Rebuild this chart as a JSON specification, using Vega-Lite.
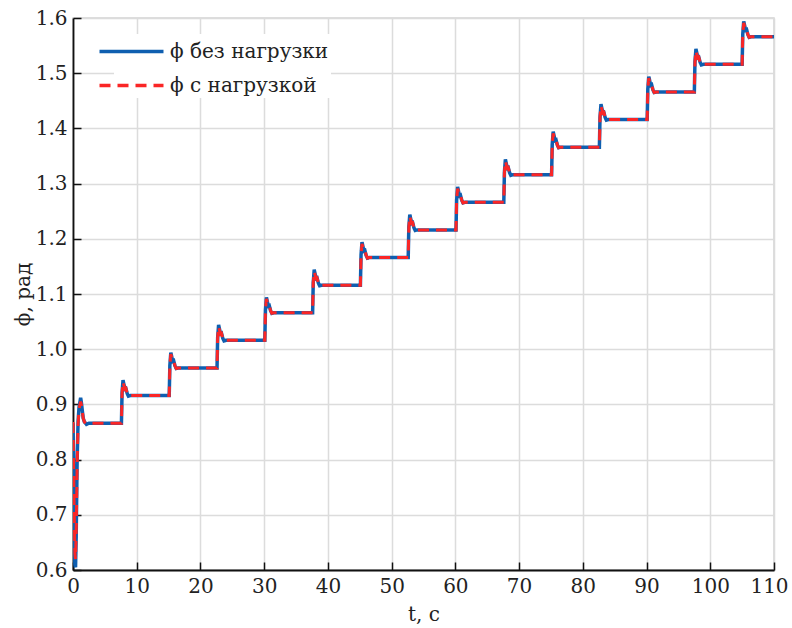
{
  "$schema": "https://vega.github.io/schema/vega-lite/v6.json",
  "width": 701,
  "height": 552,
  "autosize": {"type": "none"},
  "padding": {"left": 73, "top": 18, "right": 18, "bottom": 58},
  "background": "white",
  "view": {"stroke": "#d4d4d4", "strokeWidth": 1.5},
  "config": {
    "view": {"stroke": "#d4d4d4", "strokeWidth": 1.5},
    "font": "DejaVu Serif"
  },
  "data": {
    "values": [
      {"t": 0, "a": 0.866, "b": 0.868},
      {"t": 0.08, "a": 0.8, "b": 0.8},
      {"t": 0.2, "a": 0.68, "b": 0.7},
      {"t": 0.3, "a": 0.61, "b": 0.63},
      {"t": 0.4, "a": 0.605, "b": 0.62},
      {"t": 0.5, "a": 0.66, "b": 0.67},
      {"t": 0.65, "a": 0.8, "b": 0.79},
      {"t": 0.8, "a": 0.87, "b": 0.865},
      {"t": 0.95, "a": 0.895, "b": 0.89},
      {"t": 1.1, "a": 0.905, "b": 0.9},
      {"t": 1.2, "a": 0.912, "b": 0.905},
      {"t": 1.3, "a": 0.905, "b": 0.9},
      {"t": 1.45, "a": 0.89, "b": 0.888},
      {"t": 1.6, "a": 0.875, "b": 0.875},
      {"t": 1.8, "a": 0.868, "b": 0.868},
      {"t": 2.1, "a": 0.864, "b": 0.865},
      {"t": 2.5, "a": 0.866, "b": 0.866},
      {"t": 7.6, "a": 0.866, "b": 0.866},
      {"t": 7.7, "a": 0.921, "b": 0.921},
      {"t": 7.85, "a": 0.944, "b": 0.941},
      {"t": 8.0, "a": 0.936, "b": 0.934},
      {"t": 8.15, "a": 0.928, "b": 0.928},
      {"t": 8.3, "a": 0.929, "b": 0.929},
      {"t": 8.5, "a": 0.92, "b": 0.92},
      {"t": 8.7, "a": 0.915, "b": 0.915},
      {"t": 9.0, "a": 0.916, "b": 0.916},
      {"t": 15.1, "a": 0.916, "b": 0.916},
      {"t": 15.2, "a": 0.971, "b": 0.971},
      {"t": 15.35, "a": 0.994, "b": 0.991},
      {"t": 15.5, "a": 0.986, "b": 0.984},
      {"t": 15.65, "a": 0.978, "b": 0.978},
      {"t": 15.8, "a": 0.979, "b": 0.979},
      {"t": 16.0, "a": 0.97, "b": 0.97},
      {"t": 16.2, "a": 0.965, "b": 0.965},
      {"t": 16.5, "a": 0.966, "b": 0.966},
      {"t": 22.6, "a": 0.966, "b": 0.966},
      {"t": 22.7, "a": 1.021, "b": 1.021},
      {"t": 22.85, "a": 1.044, "b": 1.041},
      {"t": 23.0, "a": 1.036, "b": 1.034},
      {"t": 23.15, "a": 1.028, "b": 1.028},
      {"t": 23.3, "a": 1.029, "b": 1.029},
      {"t": 23.5, "a": 1.02, "b": 1.02},
      {"t": 23.7, "a": 1.015, "b": 1.015},
      {"t": 24.0, "a": 1.016, "b": 1.016},
      {"t": 30.1, "a": 1.016, "b": 1.016},
      {"t": 30.2, "a": 1.071, "b": 1.071},
      {"t": 30.35, "a": 1.094, "b": 1.091},
      {"t": 30.5, "a": 1.086, "b": 1.084},
      {"t": 30.65, "a": 1.078, "b": 1.078},
      {"t": 30.8, "a": 1.079, "b": 1.079},
      {"t": 31.0, "a": 1.07, "b": 1.07},
      {"t": 31.2, "a": 1.065, "b": 1.065},
      {"t": 31.5, "a": 1.066, "b": 1.066},
      {"t": 37.6, "a": 1.066, "b": 1.066},
      {"t": 37.7, "a": 1.121, "b": 1.121},
      {"t": 37.85, "a": 1.144, "b": 1.141},
      {"t": 38.0, "a": 1.136, "b": 1.134},
      {"t": 38.15, "a": 1.128, "b": 1.128},
      {"t": 38.3, "a": 1.129, "b": 1.129},
      {"t": 38.5, "a": 1.12, "b": 1.12},
      {"t": 38.7, "a": 1.115, "b": 1.115},
      {"t": 39.0, "a": 1.116, "b": 1.116},
      {"t": 45.1, "a": 1.116, "b": 1.116},
      {"t": 45.2, "a": 1.171, "b": 1.171},
      {"t": 45.35, "a": 1.194, "b": 1.191},
      {"t": 45.5, "a": 1.186, "b": 1.184},
      {"t": 45.65, "a": 1.178, "b": 1.178},
      {"t": 45.8, "a": 1.179, "b": 1.179},
      {"t": 46.0, "a": 1.17, "b": 1.17},
      {"t": 46.2, "a": 1.165, "b": 1.165},
      {"t": 46.5, "a": 1.166, "b": 1.166},
      {"t": 52.6, "a": 1.166, "b": 1.166},
      {"t": 52.7, "a": 1.221, "b": 1.221},
      {"t": 52.85, "a": 1.244, "b": 1.241},
      {"t": 53.0, "a": 1.236, "b": 1.234},
      {"t": 53.15, "a": 1.228, "b": 1.228},
      {"t": 53.3, "a": 1.229, "b": 1.229},
      {"t": 53.5, "a": 1.22, "b": 1.22},
      {"t": 53.7, "a": 1.215, "b": 1.215},
      {"t": 54.0, "a": 1.216, "b": 1.216},
      {"t": 60.1, "a": 1.216, "b": 1.216},
      {"t": 60.2, "a": 1.271, "b": 1.271},
      {"t": 60.35, "a": 1.294, "b": 1.291},
      {"t": 60.5, "a": 1.286, "b": 1.284},
      {"t": 60.65, "a": 1.278, "b": 1.278},
      {"t": 60.8, "a": 1.279, "b": 1.279},
      {"t": 61.0, "a": 1.27, "b": 1.27},
      {"t": 61.2, "a": 1.265, "b": 1.265},
      {"t": 61.5, "a": 1.266, "b": 1.266},
      {"t": 67.6, "a": 1.266, "b": 1.266},
      {"t": 67.7, "a": 1.321, "b": 1.321},
      {"t": 67.85, "a": 1.344, "b": 1.341},
      {"t": 68.0, "a": 1.336, "b": 1.334},
      {"t": 68.15, "a": 1.328, "b": 1.328},
      {"t": 68.3, "a": 1.329, "b": 1.329},
      {"t": 68.5, "a": 1.32, "b": 1.32},
      {"t": 68.7, "a": 1.315, "b": 1.315},
      {"t": 69.0, "a": 1.316, "b": 1.316},
      {"t": 75.1, "a": 1.316, "b": 1.316},
      {"t": 75.2, "a": 1.371, "b": 1.371},
      {"t": 75.35, "a": 1.394, "b": 1.391},
      {"t": 75.5, "a": 1.386, "b": 1.384},
      {"t": 75.65, "a": 1.378, "b": 1.378},
      {"t": 75.8, "a": 1.379, "b": 1.379},
      {"t": 76.0, "a": 1.37, "b": 1.37},
      {"t": 76.2, "a": 1.365, "b": 1.365},
      {"t": 76.5, "a": 1.366, "b": 1.366},
      {"t": 82.6, "a": 1.366, "b": 1.366},
      {"t": 82.7, "a": 1.421, "b": 1.421},
      {"t": 82.85, "a": 1.444, "b": 1.441},
      {"t": 83.0, "a": 1.436, "b": 1.434},
      {"t": 83.15, "a": 1.428, "b": 1.428},
      {"t": 83.3, "a": 1.429, "b": 1.429},
      {"t": 83.5, "a": 1.42, "b": 1.42},
      {"t": 83.7, "a": 1.415, "b": 1.415},
      {"t": 84.0, "a": 1.416, "b": 1.416},
      {"t": 90.1, "a": 1.416, "b": 1.416},
      {"t": 90.2, "a": 1.471, "b": 1.471},
      {"t": 90.35, "a": 1.494, "b": 1.491},
      {"t": 90.5, "a": 1.486, "b": 1.484},
      {"t": 90.65, "a": 1.478, "b": 1.478},
      {"t": 90.8, "a": 1.479, "b": 1.479},
      {"t": 91.0, "a": 1.47, "b": 1.47},
      {"t": 91.2, "a": 1.465, "b": 1.465},
      {"t": 91.5, "a": 1.466, "b": 1.466},
      {"t": 97.5, "a": 1.466, "b": 1.466},
      {"t": 97.6, "a": 1.521, "b": 1.521},
      {"t": 97.75, "a": 1.544, "b": 1.541},
      {"t": 97.9, "a": 1.536, "b": 1.534},
      {"t": 98.05, "a": 1.528, "b": 1.528},
      {"t": 98.2, "a": 1.529, "b": 1.529},
      {"t": 98.4, "a": 1.52, "b": 1.52},
      {"t": 98.6, "a": 1.515, "b": 1.515},
      {"t": 98.9, "a": 1.516, "b": 1.516},
      {"t": 105.0, "a": 1.516, "b": 1.516},
      {"t": 105.1, "a": 1.571, "b": 1.571},
      {"t": 105.25, "a": 1.594, "b": 1.591},
      {"t": 105.4, "a": 1.586, "b": 1.584},
      {"t": 105.55, "a": 1.578, "b": 1.578},
      {"t": 105.7, "a": 1.579, "b": 1.579},
      {"t": 105.9, "a": 1.57, "b": 1.57},
      {"t": 106.1, "a": 1.565, "b": 1.565},
      {"t": 106.4, "a": 1.566, "b": 1.566},
      {"t": 110, "a": 1.566, "b": 1.566}
    ]
  },
  "encoding": {
    "x": {
      "field": "t",
      "type": "quantitative",
      "scale": {"domain": [0, 110], "nice": false, "zero": false},
      "axis": {
        "title": "t, с",
        "values": [0, 10, 20, 30, 40, 50, 60, 70, 80, 90, 100, 110],
        "format": "d",
        "labelFont": "DejaVu Serif",
        "titleFont": "DejaVu Serif",
        "labelFontSize": 20,
        "titleFontSize": 20,
        "titleFontWeight": "normal",
        "labelColor": "#222222",
        "titleColor": "#222222",
        "domainColor": "#111111",
        "domainWidth": 1.8,
        "tickColor": "#111111",
        "tickWidth": 1.5,
        "tickSize": -8,
        "labelPadding": 14,
        "labelOffset": {"condition": {"test": "datum.value == 110", "value": -5}, "value": 0},
        "titlePadding": 8,
        "gridColor": "#dcdcdc",
        "gridWidth": 1.5,
        "labelFlush": false
      }
    }
  },
  "layer": [
    {
      "mark": {"type": "line", "strokeWidth": 3.5, "interpolate": "linear", "clip": true},
      "encoding": {
        "y": {
          "field": "a",
          "type": "quantitative",
          "scale": {"domain": [0.6, 1.6], "nice": false, "zero": false},
          "axis": {
            "title": "ϕ, рад",
            "values": [0.6, 0.7, 0.8, 0.9, 1.0, 1.1, 1.2, 1.3, 1.4, 1.5, 1.6],
            "format": ".1f",
            "labelFont": "DejaVu Serif",
            "titleFont": "DejaVu Serif",
            "labelFontSize": 20,
            "titleFontSize": 20,
            "titleFontWeight": "normal",
            "labelColor": "#222222",
            "titleColor": "#222222",
            "domainColor": "#111111",
            "domainWidth": 1.8,
            "tickColor": "#111111",
            "tickWidth": 1.5,
            "tickSize": -8,
            "labelPadding": 14,
            "titlePadding": 2,
            "gridColor": "#dcdcdc",
            "gridWidth": 1.5,
            "labelFlush": false
          }
        },
        "color": {
          "datum": "ϕ без нагрузки",
          "type": "nominal",
          "scale": {"domain": ["ϕ без нагрузки", "ϕ с нагрузкой"], "range": ["#0f5fb0", "#fa2626"]},
          "legend": {
            "title": null,
            "orient": "none",
            "legendX": 41,
            "legendY": 16,
            "fillColor": "white",
            "padding": 2,
            "symbolType": "M-2.4,0H2.4",
            "symbolSize": 711,
            "symbolStrokeWidth": 3.5,
            "labelOffset": 23,
            "rowPadding": 8,
            "labelFont": "DejaVu Serif",
            "labelFontSize": 20,
            "labelColor": "#222222"
          }
        },
        "strokeDash": {
          "datum": "ϕ без нагрузки",
          "type": "nominal",
          "scale": {"domain": ["ϕ без нагрузки", "ϕ с нагрузкой"], "range": [[1, 0], [11, 7]]},
          "legend": null
        }
      }
    },
    {
      "mark": {"type": "line", "strokeWidth": 3, "interpolate": "linear", "clip": true},
      "encoding": {
        "y": {"field": "b", "type": "quantitative"},
        "color": {"datum": "ϕ с нагрузкой", "type": "nominal"},
        "strokeDash": {"datum": "ϕ с нагрузкой", "type": "nominal"}
      }
    }
  ]
}
